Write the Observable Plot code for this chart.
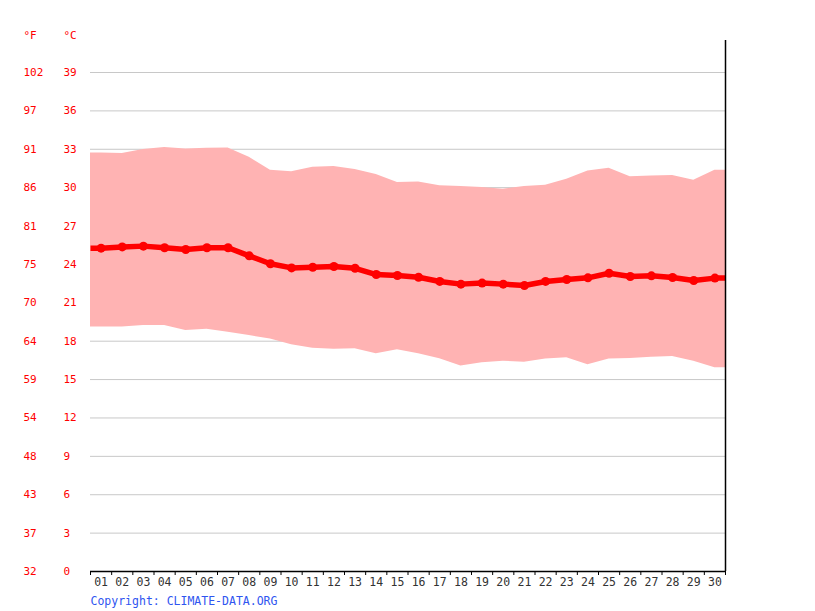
<!DOCTYPE html>
<html>
<head>
<meta charset="utf-8">
<script src="https://cdn.jsdelivr.net/npm/d3@7"></script>
<script src="https://cdn.jsdelivr.net/npm/@observablehq/plot@0.6"></script>
<style>
  html, body { margin: 0; padding: 0; background: #fff; }
  #chart svg { display: block; }
</style>
</head>
<body>
<div id="chart"></div>
<script>
const days = ["01","02","03","04","05","06","07","08","09","10","11","12","13","14","15",
              "16","17","18","19","20","21","22","23","24","25","26","27","28","29","30"];
const tMax = [32.70,32.67,32.98,33.14,33.03,33.08,33.10,32.38,31.37,31.24,31.60,31.65,31.42,31.03,30.40,
              30.45,30.14,30.09,30.01,29.88,30.09,30.19,30.66,31.31,31.52,30.85,30.92,30.95,30.58,31.37];
const tMean = [25.27,25.37,25.43,25.30,25.17,25.30,25.30,24.67,24.05,23.73,23.78,23.84,23.70,23.21,23.13,
               23.00,22.67,22.46,22.54,22.46,22.35,22.67,22.82,22.95,23.31,23.06,23.11,22.98,22.74,22.93];
const tMin = [19.10,19.10,19.22,19.22,18.84,18.94,18.70,18.44,18.18,17.72,17.45,17.38,17.40,17.01,17.33,
              17.01,16.62,16.07,16.31,16.44,16.36,16.60,16.70,16.15,16.60,16.65,16.75,16.80,16.44,15.92];
const cTicks = [0,3,6,9,12,15,18,21,24,27,30,33,36,39];
const fTicks = ["32","37","43","48","54","59","64","70","75","81","86","91","97","102"];

const data = days.map((d, i) => ({day: d, x: i + 0.5, min: tMin[i], mean: tMean[i], max: tMax[i]}));
// extend the band and line flat to the frame edges
const ext = [{...data[0], x: 0}, ...data, {...data[data.length - 1], x: days.length}];

const font = "'DejaVu Sans Mono', monospace";
const red = "#ff0000";

const chart = Plot.plot({
  width: 815,
  height: 611,
  marginLeft: 90,
  marginRight: 90,
  marginTop: 40,
  marginBottom: 40,
  style: {fontFamily: font, fontSize: "11.5px", background: "#fff"},
  x: {domain: [0, days.length], axis: null, label: null},
  y: {domain: [0, 39], range: [571, 72], axis: null, label: null},
  marks: [
    Plot.gridY(cTicks.filter(t => t > 0), {stroke: "#c8c8c8", strokeOpacity: 1, strokeWidth: 1}),
    Plot.areaY(ext, {x: "x", y1: "min", y2: "max", fill: "#ffb3b3", fillOpacity: 1}),
    Plot.line(ext, {x: "x", y: "mean", stroke: red, strokeWidth: 5.5, strokeLinejoin: "round", strokeLinecap: "butt"}),
    Plot.dot(data, {x: "x", y: "mean", r: 4.5, fill: red, stroke: null}),
    Plot.ruleY([0], {stroke: "#000", strokeWidth: 1.3}),
    Plot.ruleX([days.length], {stroke: "#000", strokeWidth: 1.5}),
    // x tick marks at day boundaries
    Plot.axisX({ticks: d3.range(0, days.length + 1), tickFormat: () => "", tickSize: 4, stroke: "#000",
                anchor: "bottom", label: null}),
    // x labels at day centres
    Plot.axisX({ticks: data.map(d => d.x), tickFormat: v => days[Math.round(v - 0.5)], tickSize: 0, tickPadding: 6,
                anchor: "bottom", fill: "#333", fontSize: "11.5px", label: null}),
    // °C labels
    Plot.axisY({ticks: cTicks, tickSize: 0, tickPadding: 0, textAnchor: "start", dx: -27, anchor: "left",
                fill: red, fontSize: "11px", label: null}),
    // °F labels
    Plot.axisY({ticks: cTicks, tickFormat: v => fTicks[cTicks.indexOf(v)], tickSize: 0, tickPadding: 0,
                textAnchor: "start", dx: -67, anchor: "left", fill: red, fontSize: "11px", label: null}),
    Plot.text(["°F"], {frameAnchor: "top-left", dx: -67, dy: -5, textAnchor: "start", lineAnchor: "middle", fill: red, fontSize: 11}),
    Plot.text(["°C"], {frameAnchor: "top-left", dx: -27, dy: -5, textAnchor: "start", lineAnchor: "middle", fill: red, fontSize: 11}),
    Plot.text(["Copyright: CLIMATE-DATA.ORG"], {frameAnchor: "bottom-left", dx: 0, dy: 30, textAnchor: "start",
                lineAnchor: "middle", fill: "#2f55f0", fontSize: 11.5})
  ]
});
document.getElementById("chart").appendChild(chart);
</script>
</body>
</html>
